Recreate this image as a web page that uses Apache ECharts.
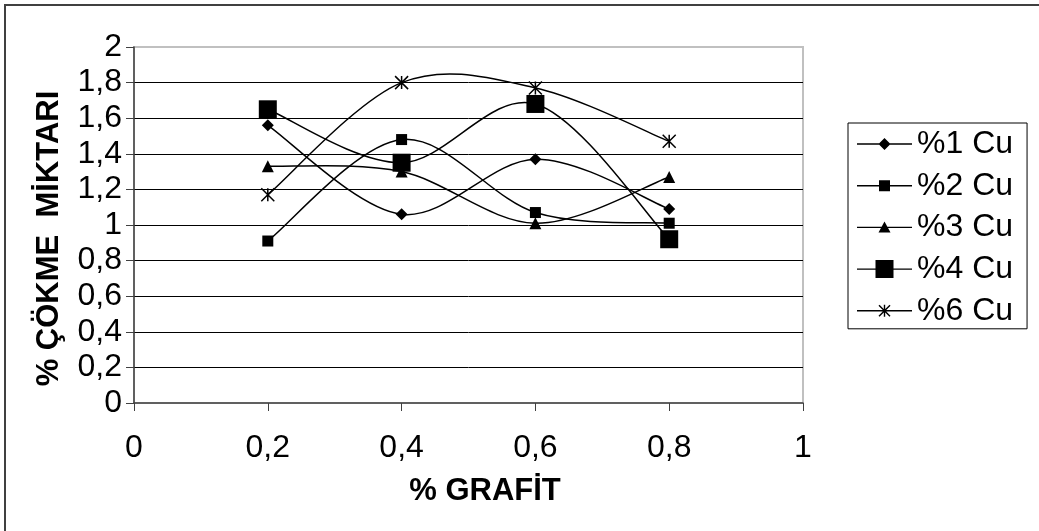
<!DOCTYPE html>
<html>
<head>
<meta charset="utf-8">
<script src="https://cdn.jsdelivr.net/npm/echarts@6/dist/echarts.min.js"></script>
<style>html,body{margin:0;padding:0;background:#fff;}#c{width:1039px;height:531px;}</style>
</head>
<body>
<div id="c"></div>
<script>
var xValues = [0.2, 0.4, 0.6, 0.8];
var seriesNames = ['%1 Cu', '%2 Cu', '%3 Cu', '%4 Cu', '%6 Cu'];
var cu1 = [1.56, 1.06, 1.37, 1.09];
var cu2 = [0.91, 1.48, 1.07, 1.01];
var cu3 = [1.33, 1.30, 1.01, 1.27];
var cu4 = [1.65, 1.35, 1.68, 0.92];
var cu6 = [1.17, 1.80, 1.77, 1.47];
var xTicks = [0, 0.2, 0.4, 0.6, 0.8, 1];
var yTicks = [0, 0.2, 0.4, 0.6, 0.8, 1, 1.2, 1.4, 1.6, 1.8, 2];
var xTitle = '% GRAFİT';
var yTitle = '% ÇÖKME  MİKTARI';

function pairs(vals) { return xValues.map(function (x, i) { return [x, vals[i]]; }); }
function fmt(v) { return String(Math.round(v * 10) / 10).replace('.', ','); }

var FONT = 'Liberation Sans, Arial, sans-serif';
var anchors = 'M27.5,0L27.51,0L27.5,0.01Z M27.5,20L27.51,20L27.5,19.99Z ';
var lineRect = 'M0,9.3H55V10.7H0Z ';
var icons = [
  'path://' + anchors + lineRect + 'M27.5,4L33.5,10L27.5,16L21.5,10Z',
  'path://' + anchors + lineRect + 'M22,4.5H33V15.5H22Z',
  'path://' + anchors + lineRect + 'M27.5,4L33.5,15L21.5,15Z',
  'path://' + anchors + lineRect + 'M18.5,1H36.5V19H18.5Z',
  'path://' + anchors + lineRect + 'M22.5,4L33.5,15L32.5,16L21.5,5Z M33.5,5L22.5,16L21.5,15L32.5,4Z M26.8,4H28.2V16H26.8Z'
];
var starPath = 'path://M0,0L10,10M10,0L0,10M5,0L5,10';

var symbols = ['diamond', 'rect', 'triangle', 'rect', starPath];
var sizes = [12, 11, 12, 18, 13];
var datas = [cu1, cu2, cu3, cu4, cu6];

// Excel-style smoothed curve (Catmull-Rom Bezier) drawn through axis coordinates
function makeCurveRenderer(vals) {
  return function (params, api) {
    var i = params.dataIndex, n = vals.length;
    if (i >= n - 1) return null;
    function pt(k) { k = Math.max(0, Math.min(n - 1, k)); return api.coord([xValues[k], vals[k]]); }
    var p0 = pt(i - 1), p1 = pt(i), p2 = pt(i + 1), p3 = pt(i + 2);
    return {
      type: 'bezierCurve',
      shape: {
        x1: p1[0], y1: p1[1], x2: p2[0], y2: p2[1],
        cpx1: p1[0] + (p2[0] - p0[0]) / 6, cpy1: p1[1] + (p2[1] - p0[1]) / 6,
        cpx2: p2[0] - (p3[0] - p1[0]) / 6, cpy2: p2[1] - (p3[1] - p1[1]) / 6
      },
      style: { stroke: '#000', lineWidth: 1.5, fill: null },
      silent: true
    };
  };
}

var series = [];
datas.forEach(function (vals, i) {
  series.push({
    type: 'custom',
    data: pairs(vals),
    encode: { x: 0, y: 1 },
    renderItem: makeCurveRenderer(vals),
    z: 2,
    silent: true
  });
});
seriesNames.forEach(function (n, i) {
  series.push({
    name: n,
    type: 'line',
    data: pairs(datas[i]),
    symbol: symbols[i],
    symbolSize: sizes[i],
    showAllSymbol: true,
    lineStyle: { color: '#000', width: 1.5, opacity: 0 },
    itemStyle: i === 4 ? { color: '#000', borderColor: '#000', borderWidth: 1.5 } : { color: '#000', borderWidth: 0 },
    emphasis: { disabled: true },
    z: 3
  });
});

var chart = echarts.init(document.getElementById('c'), null, { renderer: 'canvas' });
chart.setOption({
  animation: false,
  backgroundColor: '#fff',
  grid: { left: 134, top: 47, right: 236, bottom: 128, show: true, borderColor: '#c0c0c0', borderWidth: 2, backgroundColor: '#fff' },
  xAxis: {
    type: 'value', min: xTicks[0], max: xTicks[xTicks.length - 1], interval: 0.2,
    axisLine: { show: true, onZero: false, lineStyle: { color: '#404040', width: 1.5 } },
    axisTick: { show: true, length: 8, lineStyle: { color: '#404040', width: 1 } },
    axisLabel: { fontSize: 32, color: '#000', fontFamily: FONT, margin: 29, formatter: fmt },
    splitLine: { show: false }
  },
  yAxis: {
    type: 'value', min: yTicks[0], max: yTicks[yTicks.length - 1], interval: 0.2,
    axisLine: { show: true, onZero: false, lineStyle: { color: '#404040', width: 1.5 } },
    axisTick: { show: true, length: 8, lineStyle: { color: '#404040', width: 1 } },
    axisLabel: { fontSize: 32, color: '#000', fontFamily: FONT, margin: 12, formatter: fmt },
    splitLine: { show: true, showMinLine: false, showMaxLine: false, lineStyle: { color: '#000', width: 1 } }
  },
  legend: {
    orient: 'vertical', left: 848, top: 123,
    data: seriesNames.map(function (n, i) { return { name: n, icon: icons[i] }; }),
    itemWidth: 55, itemHeight: 20, itemGap: 9.7,
    padding: [5, 14, 2, 9],
    borderColor: '#000', borderWidth: 1,
    textStyle: { fontSize: 32, color: '#000', fontFamily: FONT },
    itemStyle: { color: '#000', borderWidth: 0 },
    lineStyle: { color: '#000' },
    inactiveColor: '#000',
    selectedMode: false
  },
  graphic: [
    { type: 'rect', shape: { x: 5, y: 5, width: 1060, height: 560 }, style: { fill: 'none', stroke: '#404040', lineWidth: 2 }, silent: true, z: 100 },
    { type: 'text', x: 485, y: 491, style: { text: xTitle, fontSize: 31, fontWeight: 'bold', fontFamily: FONT, fill: '#000', align: 'center', verticalAlign: 'middle' }, z: 100 },
    { type: 'text', x: 49, y: 238.5, rotation: Math.PI / 2, style: { text: yTitle, fontSize: 31, fontWeight: 'bold', fontFamily: FONT, fill: '#000', align: 'center', verticalAlign: 'middle' }, z: 100 }
  ],
  series: series
});
</script>
</body>
</html>
